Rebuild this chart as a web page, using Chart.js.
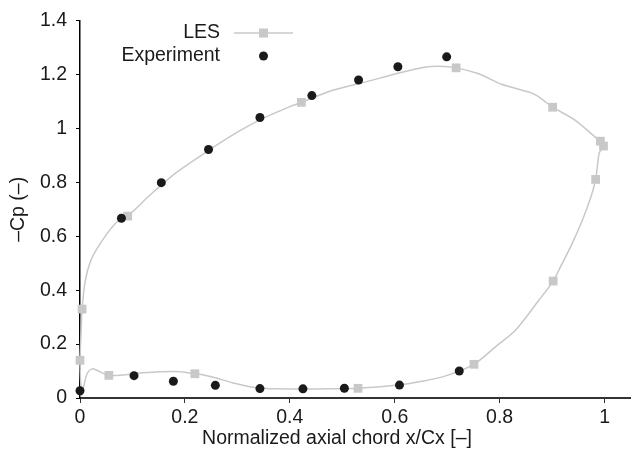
<!DOCTYPE html>
<html>
<head>
<meta charset="utf-8">
<script src="https://cdn.jsdelivr.net/npm/chart.js@4"></script>
<style>
  body { margin: 0; background: #fff; }
  #wrap { width: 637px; height: 458px; }
</style>
</head>
<body>
<div id="wrap"><canvas id="cpChart" width="637" height="458"></canvas></div>
<script>
// LES pressure distribution (closed loop round the blade)
const lesX = [0.003, 0.001, 0.000, 0.002, 0.004, 0.010, 0.020, 0.033, 0.052, 0.071,
  0.091, 0.134, 0.184, 0.241, 0.292, 0.343, 0.400, 0.422, 0.482, 0.545,
  0.608, 0.659, 0.684, 0.717, 0.760, 0.804, 0.858, 0.874, 0.901, 0.943,
  0.984, 0.992, 0.998, 0.990, 0.986, 0.983, 0.975, 0.959, 0.937, 0.918,
  0.902, 0.874, 0.830, 0.792, 0.751, 0.697, 0.652, 0.602, 0.530, 0.469,
  0.374, 0.330, 0.292, 0.260, 0.229, 0.219, 0.184, 0.121, 0.090, 0.055,
  0.033, 0.023, 0.014, 0.007, 0.003];
const lesY = [0.007, 0.070, 0.140, 0.240, 0.330, 0.434, 0.507, 0.556, 0.611, 0.654,
  0.675, 0.754, 0.837, 0.913, 0.977, 1.032, 1.081, 1.097, 1.142, 1.173,
  1.206, 1.228, 1.231, 1.225, 1.203, 1.164, 1.134, 1.118, 1.079, 1.032,
  0.965, 0.953, 0.935, 0.910, 0.855, 0.811, 0.752, 0.666, 0.568, 0.495,
  0.434, 0.361, 0.251, 0.190, 0.125, 0.082, 0.062, 0.047, 0.036, 0.034,
  0.034, 0.040, 0.056, 0.074, 0.088, 0.090, 0.098, 0.094, 0.087, 0.084,
  0.102, 0.108, 0.092, 0.043, 0.007];

// LES marker positions
const lesMarkX = [0.000, 0.004, 0.091, 0.422, 0.717, 0.901, 0.992, 0.998, 0.983, 0.902, 0.751, 0.530, 0.219, 0.055];
const lesMarkY = [0.140, 0.330, 0.675, 1.097, 1.225, 1.079, 0.953, 0.935, 0.811, 0.434, 0.125, 0.036, 0.090, 0.084];

// experiment
const expX = [0.000, 0.103, 0.178, 0.258, 0.343, 0.425, 0.504, 0.609, 0.723,
  0.079, 0.155, 0.245, 0.343, 0.442, 0.531, 0.606, 0.699];
const expY = [0.027, 0.083, 0.062, 0.047, 0.035, 0.034, 0.036, 0.048, 0.100,
  0.667, 0.799, 0.922, 1.041, 1.122, 1.180, 1.229, 1.266];

const xTicks = [0, 0.2, 0.4, 0.6, 0.8, 1];
const xTickLabels = ["0", "0.2", "0.4", "0.6", "0.8", "1"];
const yTicks = [0, 0.2, 0.4, 0.6, 0.8, 1, 1.2, 1.4];
const yTickLabels = ["0", "0.2", "0.4", "0.6", "0.8", "1", "1.2", "1.4"];

const FONT = "'Liberation Sans', Arial, sans-serif";
const FSIZE = 19.5;
const LES_GRAY = "#c8c8c8";
const DOT = "#1a1a1a";

const pts = (xs, ys) => xs.map((x, i) => ({ x: x, y: ys[i] }));

// legend (text left, symbol right) and the x title, which sits left of centre
const labelPlugin = {
  id: "sideLegend",
  afterDraw(chart) {
    const ctx = chart.ctx;
    ctx.save();
    ctx.font = FSIZE + "px " + FONT;
    ctx.fillStyle = "#1a1a1a";
    ctx.textBaseline = "middle";
    ctx.textAlign = "center";
    ctx.fillText("Normalized axial chord x/Cx [–]", 337, 439);

    ctx.textAlign = "right";
    ctx.fillText("LES", 220, 33);
    ctx.fillText("Experiment", 220, 56);

    ctx.strokeStyle = LES_GRAY;
    ctx.lineWidth = 1.5;
    ctx.beginPath();
    ctx.moveTo(234, 33);
    ctx.lineTo(293, 33);
    ctx.stroke();
    ctx.fillStyle = LES_GRAY;
    ctx.fillRect(259, 28.5, 9, 9);

    ctx.fillStyle = DOT;
    ctx.beginPath();
    ctx.arc(263.5, 56, 4.5, 0, Math.PI * 2);
    ctx.fill();
    ctx.restore();
  }
};

new Chart(document.getElementById("cpChart"), {
  type: "scatter",
  data: {
    datasets: [
      {
        label: "Experiment",
        data: pts(expX, expY),
        pointStyle: "circle",
        pointRadius: 4.5,
        pointBackgroundColor: DOT,
        pointBorderWidth: 0,
        showLine: false,
        clip: false
      },
      {
        label: "LES",
        data: pts(lesMarkX, lesMarkY),
        pointStyle: "rect",
        pointRadius: 6.2,
        pointBackgroundColor: LES_GRAY,
        pointBorderWidth: 0,
        showLine: false,
        clip: false
      },
      {
        label: "LES line",
        data: pts(lesX, lesY),
        showLine: true,
        tension: 0.3,
        borderColor: LES_GRAY,
        borderWidth: 1.5,
        pointRadius: 0,
        clip: false
      }
    ]
  },
  options: {
    responsive: false,
    animation: false,
    events: [],
    layout: { padding: { top: 16, right: 4, left: 0, bottom: 0 } },
    plugins: { legend: { display: false }, tooltip: { enabled: false } },
    scales: {
      x: {
        type: "linear",
        min: 0,
        max: 1.05,
        afterFit(s) { s.height = 60; },
        afterBuildTicks(s) { s.ticks = xTicks.map(v => ({ value: v })); },
        border: { display: true, color: "#333", width: 2 },
        grid: { drawOnChartArea: false, drawTicks: true, tickLength: 5, color: "#333", tickWidth: 1 },
        ticks: {
          padding: 3,
          color: "#1a1a1a",
          font: { family: FONT, size: FSIZE },
          callback: (v, i) => xTickLabels[i]
        }
      },
      y: {
        type: "linear",
        min: 0,
        max: 1.4,
        afterFit(s) { s.width = 80; },
        afterBuildTicks(s) { s.ticks = yTicks.map(v => ({ value: v })); },
        border: { display: true, color: "#000", width: 1.5 },
        grid: { drawOnChartArea: false, drawTicks: true, tickLength: 4, color: "#000", tickWidth: 1 },
        ticks: {
          padding: 9,
          color: "#1a1a1a",
          font: { family: FONT, size: FSIZE },
          callback: (v, i) => yTickLabels[i]
        },
        title: {
          display: true,
          text: "–Cp (–)",
          color: "#1a1a1a",
          font: { family: FONT, size: FSIZE },
          padding: { top: 7, bottom: 0 }
        }
      }
    }
  },
  plugins: [labelPlugin]
});
</script>
</body>
</html>
